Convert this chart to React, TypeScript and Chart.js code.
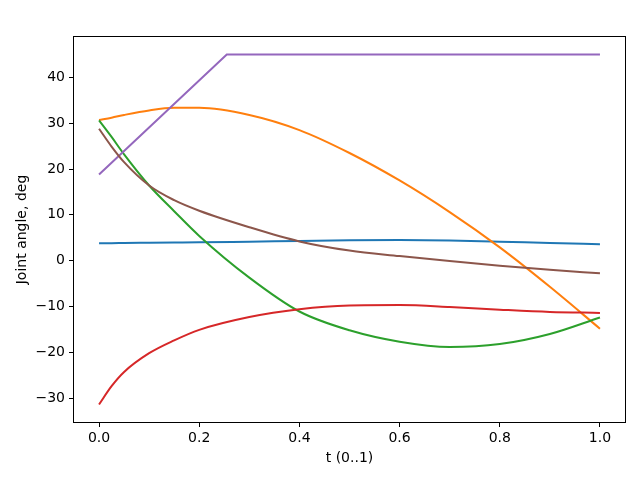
import { useEffect, useRef } from "react"
import { Chart, registerables } from "chart.js"

Chart.register(...registerables)

// sample times along the trajectory (denser at the start where curves bend)
const tGrid = [0, 0.025, 0.05, 0.1, 0.15, 0.2, 0.3, 0.4, 0.5, 0.6, 0.7, 0.8, 0.9, 1.0]

// joint angles in degrees, read at tGrid
const joint1 = [3.8, 3.8, 3.85, 3.9, 3.95, 4.0, 4.15, 4.3, 4.45, 4.5, 4.4, 4.15, 3.85, 3.6]
const joint2 = [30.7, 31.2, 31.8, 32.8, 33.35, 33.35, 31.8, 28.5, 23.5, 17.5, 10.6, 2.9, -5.7, -14.85]
const joint3 = [30.6, 27.0, 23.2, 16.4, 10.8, 5.4, -3.7, -11.1, -15.2, -17.7, -18.85, -18.2, -16.0, -12.4]
const joint4 = [-31.4, -27.4, -24.3, -20.2, -17.4, -15.1, -12.3, -10.6, -9.8, -9.7, -10.1, -10.7, -11.2, -11.4]
const joint6 = [28.8, 24.9, 21.5, 16.4, 13.2, 10.9, 7.3, 4.2, 2.2, 1.0, -0.1, -1.1, -2.0, -2.75]

// joint 5 ramps up then saturates at the limit
const joint5T = [0, 0.255, 1.0]
const joint5 = [18.8, 45, 45]

const xTicks = [0, 0.2, 0.4, 0.6, 0.8, 1.0]
const yTicks = [-30, -20, -10, 0, 10, 20, 30, 40]

const colors = ["#1f77b4", "#ff7f0e", "#2ca02c", "#d62728", "#9467bd", "#8c564b"]

const toPoints = (ts: number[], vs: number[]) => ts.map((t, i) => ({ x: t, y: vs[i] }))

// matplotlib-like frame around the plot area
const framePlugin = {
  id: "frame",
  afterDatasetsDraw(chart: Chart) {
    const { ctx, chartArea } = chart
    ctx.save()
    ctx.strokeStyle = "#000"
    ctx.lineWidth = 1
    ctx.strokeRect(
      chartArea.left - 0.5,
      chartArea.top - 0.5,
      chartArea.right - chartArea.left + 1,
      chartArea.bottom - chartArea.top + 1
    )
    ctx.restore()
  },
}

export default function App() {
  const chartRef = useRef<HTMLCanvasElement>(null)
  const chartInstance = useRef<Chart | null>(null)

  useEffect(() => {
    if (!chartRef.current) return
    if (chartInstance.current) chartInstance.current.destroy()

    const ctx = chartRef.current.getContext("2d")
    if (!ctx) return

    Chart.defaults.font.family = "'DejaVu Sans'"
    Chart.defaults.font.size = 14
    Chart.defaults.color = "#000"

    const series = [
      toPoints(tGrid, joint1),
      toPoints(tGrid, joint2),
      toPoints(tGrid, joint3),
      toPoints(tGrid, joint4),
      toPoints(joint5T, joint5),
      toPoints(tGrid, joint6),
    ]

    const all = [...joint1, ...joint2, ...joint3, ...joint4, ...joint5, ...joint6]
    const lo = Math.min(...all)
    const hi = Math.max(...all)
    const margin = (hi - lo) * 0.05

    chartInstance.current = new Chart(ctx, {
      type: "line",
      data: {
        datasets: series.map((data, i) => ({
          label: `joint ${i + 1}`,
          data,
          borderColor: colors[i],
          backgroundColor: colors[i],
          borderWidth: 2,
          pointRadius: 0,
          cubicInterpolationMode: i === 4 ? "default" : "monotone",
          tension: 0,
          fill: false,
          order: series.length - i,
        })),
      },
      options: {
        animation: false,
        responsive: true,
        maintainAspectRatio: false,
        events: [],
        layout: { padding: { left: 0, top: 37, right: 16, bottom: 0 } },
        plugins: {
          legend: { display: false },
          tooltip: { enabled: false },
        },
        scales: {
          x: {
            type: "linear",
            min: -0.05,
            max: 1.05,
            afterBuildTicks: (scale) => {
              scale.ticks = xTicks.map((value) => ({ value }))
            },
            afterFit: (scale) => {
              scale.height = 58
            },
            ticks: {
              color: "#000",
              padding: 3,
              maxRotation: 0,
              autoSkip: false,
              callback: (value) => Number(value).toFixed(1),
            },
            grid: { drawOnChartArea: false, tickLength: 5, tickColor: "#000", lineWidth: 1 },
            border: { display: false },
            title: {
              display: true,
              text: "t (0..1)",
              color: "#000",
              padding: { top: 0, bottom: 13.5 },
            },
          },
          y: {
            type: "linear",
            min: lo - margin,
            max: hi + margin,
            afterBuildTicks: (scale) => {
              scale.ticks = yTicks.map((value) => ({ value }))
            },
            afterFit: (scale) => {
              scale.width = 74
            },
            ticks: {
              color: "#000",
              padding: 4,
              autoSkip: false,
              callback: (value) => {
                const v = Number(value)
                return v < 0 ? `\u2212${Math.abs(v)}` : `${v}`
              },
            },
            grid: { drawOnChartArea: false, tickLength: 5, tickColor: "#000", lineWidth: 1 },
            border: { display: false },
            title: {
              display: true,
              text: "Joint angle, deg",
              color: "#000",
              padding: { top: 13.5, bottom: 0 },
            },
          },
        },
      },
      plugins: [framePlugin],
    })

    return () => {
      if (chartInstance.current) {
        chartInstance.current.destroy()
        chartInstance.current = null
      }
    }
  }, [])

  return (
    <div style={{ position: "absolute", left: 0, top: 0, width: 641, height: 480, background: "#fff" }}>
      <canvas ref={chartRef} />
    </div>
  )
}
